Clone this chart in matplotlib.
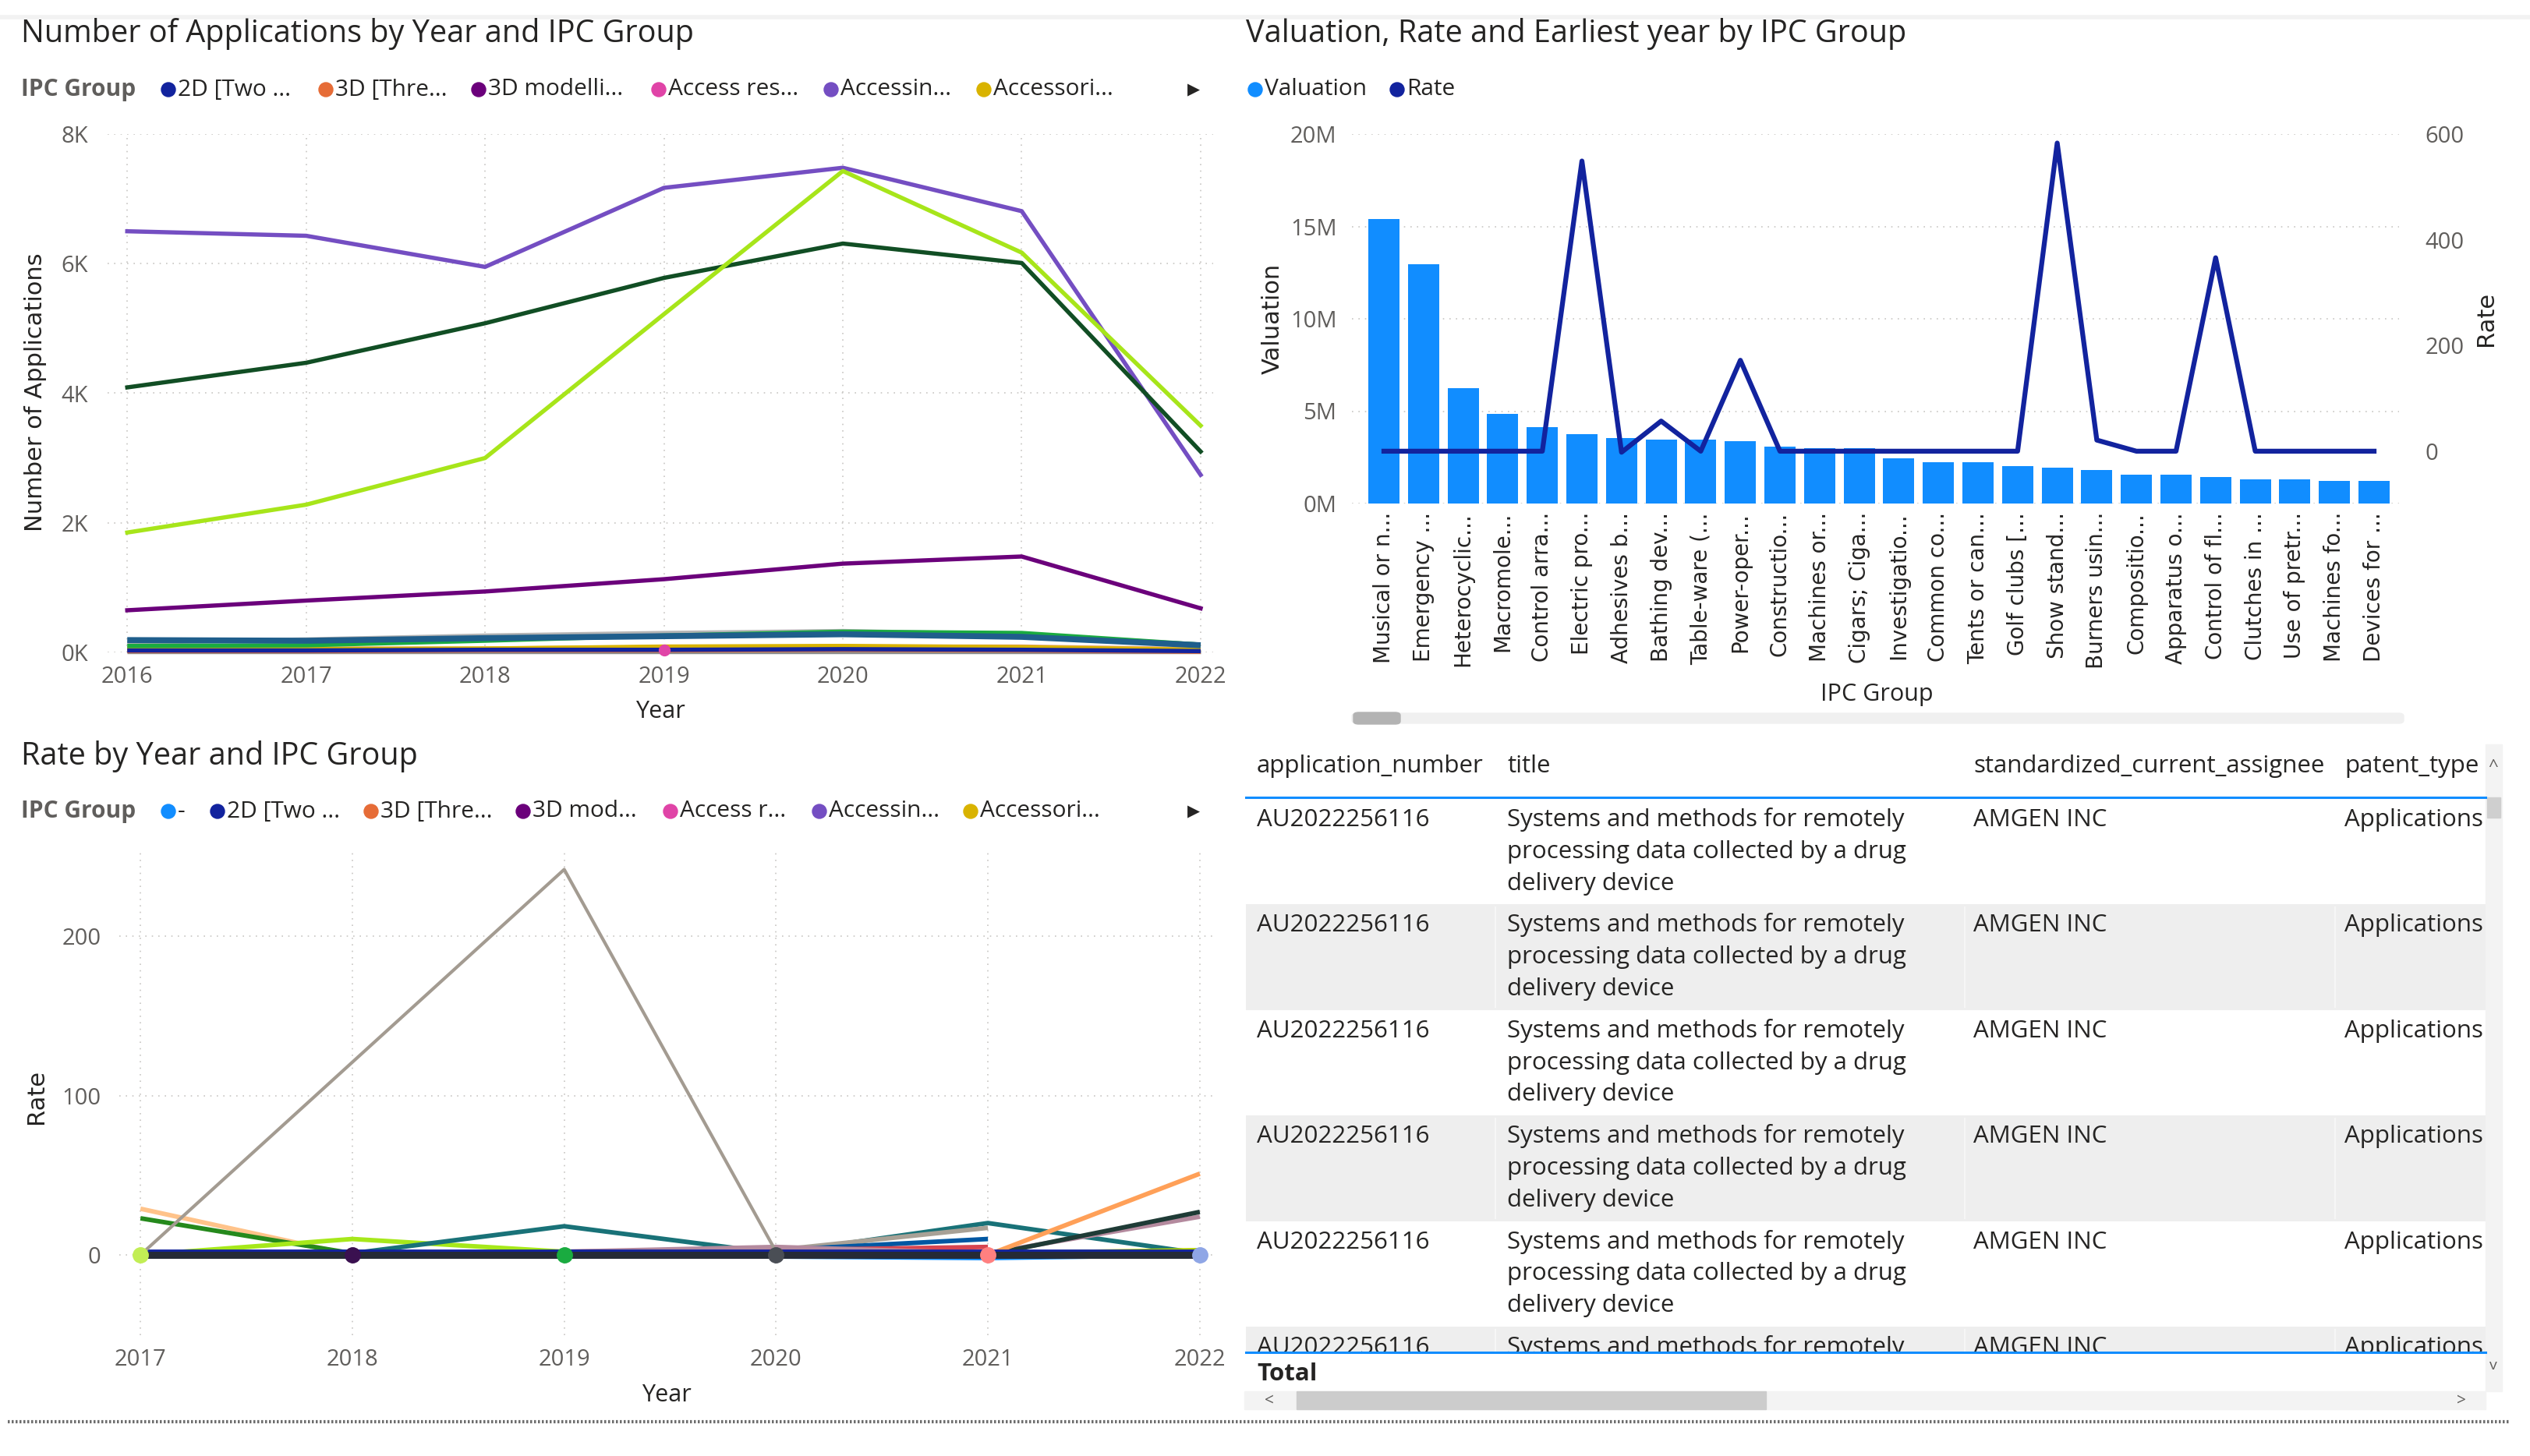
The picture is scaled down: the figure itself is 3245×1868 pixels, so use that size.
import numpy as np
import matplotlib
matplotlib.use("Agg")
import matplotlib.pyplot as plt
from matplotlib.patches import Rectangle, Ellipse, FancyBboxPatch

W, H = 3245, 1868
plt.rcParams['font.family'] = ['Open Sans', 'DejaVu Sans']

TXT = "#252423"
TICK = "#605E5C"
GRID = "#C8C6C4"

# ---------------- data: applications by year ----------------
years_apps = [2016, 2017, 2018, 2019, 2020, 2021, 2022]
apps_names = ["2D [Two ...", "3D [Thre...", "3D modelli...", "Access res...",
              "Accessin...", "Accessori..."]
apps_colors = ["#12239E", "#E66C37", "#6B007B", "#E044A7", "#744EC2", "#D9B300"]

apps_gray = [10, 10, 10, 10, 10, 10, 10]
apps_tan = [70, 60, 60, 80, 90, 90, 50]
apps_accessori = [60, 50, 60, 90, 100, 80, 40]
apps_3d_thre = [20, 20, 30, 30, 40, 30, 10]
apps_2d_two = [30, 30, 40, 40, 50, 40, 20]
apps_lightgray = [150, 200, 260, 300, 330, 280, 120]
apps_green = [100, 110, 180, 260, 320, 300, 120]
apps_steel = [190, 180, 220, 250, 280, 240, 110]
apps_access_res = [40]            # single point in 2019
apps_3d_modelli = [650, 800, 940, 1130, 1370, 1480, 680]
apps_accessin = [6500, 6430, 5950, 7170, 7480, 6810, 2740]
apps_darkgreen = [4090, 4470, 5080, 5780, 6310, 6010, 3100]
apps_lime = [1850, 2280, 3000, 5220, 7430, 6170, 3500]

# ---------------- data: valuation / rate by IPC group ----------------
ipc_groups = ["Musical or n...", "Emergency ...", "Heterocyclic...", "Macromole...",
              "Control arra...", "Electric pro...", "Adhesives b...", "Bathing dev...",
              "Table-ware (...", "Power-oper...", "Constructio...", "Machines or...",
              "Cigars; Ciga...", "Investigatio...", "Common co...", "Tents or can...",
              "Golf clubs [...", "Show stand...", "Burners usin...", "Compositio...",
              "Apparatus o...", "Control of fl...", "Clutches in ...", "Use of pretr...",
              "Machines fo...", "Devices for ..."]
valuation = [15.38, 12.97, 6.24, 4.86, 4.12, 3.76, 3.55, 3.45, 3.45, 3.38, 3.10, 3.01,
             3.01, 2.44, 2.23, 2.23, 2.02, 1.92, 1.82, 1.56, 1.56, 1.42, 1.32, 1.31,
             1.21, 1.21]  # millions
rate = [0, 0, 0, 0, 0, 549, -2, 57, 0, 172, 0, 0, 0, 0, 0, 0, 0, 583, 21, 0, 0, 366,
        0, 0, 0, 0]

# ---------------- data: rate by year ----------------
years_rate = [2017, 2018, 2019, 2020, 2021, 2022]
rate_names = ["-", "2D [Two ...", "3D [Thre...", "3D mod...", "Access r...",
              "Accessin...", "Accessori..."]
rate_colors = ["#118DFF", "#12239E", "#E66C37", "#6B007B", "#E044A7", "#744EC2", "#D9B300"]
nan = np.nan
rate_series = [
    # (values, color, linewidth)
    ([29, 0, nan, nan, nan, nan], "#FFC38A", 4.2),
    ([23, 1, nan, nan, nan, nan], "#25891C", 4.2),
    ([0, 10, 2, nan, nan, nan], "#A6E81A", 4.2),
    ([nan, 1, 18, 1, 20, 1], "#197278", 4.2),
    ([nan, nan, nan, 3, 17, nan], "#A8A196", 4.2),
    ([nan, nan, nan, 3, 10, nan], "#0057A2", 4.2),
    ([nan, nan, 2, 3, 5, nan], "#D64550", 4.2),
    ([nan, nan, 2, 5, 1, 24], "#B48A9E", 4.2),
    ([nan, nan, nan, nan, 0, 27], "#1F3B36", 4.2),
    ([nan, nan, nan, nan, 0, 51], "#FFA058", 4.2),
    ([nan, nan, nan, nan, 1, 3], "#B5D300", 4.2),
    ([nan, nan, nan, -1, -2, 0], "#118DFF", 4.2),
    ([2, 2, 2, 2, 2, 2], "#12239E", 4.2),
    ([0, 0, 0, 0, 0, 0], "#252A36", 6.5),
    ([0, 121, 242, 2, nan, nan], "#A39B91", 3),
]
rate_markers = ["#C2EE55", "#3A1050", "#1AAB40", "#4A4E55", "#FF8080", "#8FA6E6"]

# ---------------- table ----------------
tbl_columns = ["application_number", "title", "standardized_current_assignee", "patent_type"]
tbl_app = ["AU2022256116"] * 6
tbl_title = ["Systems and methods for remotely\nprocessing data collected by a drug\ndelivery device"] * 6
tbl_assignee = ["AMGEN INC"] * 6
tbl_type = ["Applications"] * 6

fig = plt.figure(figsize=(W / 100, H / 100), dpi=100)

FS_LEG = 21.5
FS_TBL = 22.5
FS_TITLE = 28.5
FS_AXL = 22


def add_ax(x0, y0, x1, y1):
    return fig.add_axes([x0 / W, 1 - y1 / H, (x1 - x0) / W, (y1 - y0) / H])


def ftext(x, y, s, **kw):
    return fig.text(x / W, 1 - y / H, s, **kw)


def dot(x, y, col):
    fig.patches.append(Ellipse((x / W, 1 - y / H), 18 / W, 18 / H, color=col,
                               transform=fig.transFigure, figure=fig))


def legend_row(y, x_title, items):
    ftext(x_title, y, "IPC Group", fontsize=FS_LEG, fontweight="bold", color="#605E5C",
          va="center", ha="left")
    for xd, label, col in items:
        dot(xd, y, col)
        ftext(xd + 12, y, label, fontsize=FS_LEG, color=TXT, va="center", ha="left")
    ftext(1531, y, "\u25B6", fontsize=15, color="#252423", va="center", ha="center",
          family="DejaVu Sans")


def style_axes(ax):
    for s in ax.spines.values():
        s.set_visible(False)
    ax.tick_params(length=0, colors=TICK, labelsize=21)


# top faint separator and bottom dotted line
fig.add_artist(plt.Line2D([0, 1], [1 - 22 / H, 1 - 22 / H], color="#F2F2F2", lw=4,
                          transform=fig.transFigure))
fig.add_artist(plt.Line2D([10 / W, 3218 / W], [1 - 1824 / H, 1 - 1824 / H], color="#6E6E6E",
                          lw=3, ls=(0, (0.6, 0.6)), transform=fig.transFigure))

# ================= chart 1: applications =================
ftext(27, 44, "Number of Applications by Year and IPC Group", fontsize=FS_TITLE, color=TXT,
      va="center", ha="left")
legend_row(115, 27, [(216, apps_names[0], apps_colors[0]), (418, apps_names[1], apps_colors[1]),
                     (614, apps_names[2], apps_colors[2]), (845, apps_names[3], apps_colors[3]),
                     (1066, apps_names[4], apps_colors[4]), (1262, apps_names[5], apps_colors[5])])

ax1 = add_ax(138, 172, 1556, 837)
style_axes(ax1)
ax1.set_xlim(2015.89, 2022.07)
ax1.set_ylim(0, 8000)
ax1.set_yticks([0, 2000, 4000, 6000, 8000])
ax1.set_yticklabels(["0K", "2K", "4K", "6K", "8K"])
ax1.set_xticks(years_apps)
ax1.grid(True, color=GRID, ls=(0, (1, 4)), lw=1.2)
ax1.tick_params(axis="y", pad=18)
ax1.tick_params(axis="x", pad=12)
lw1 = 3.9
for vals, col in [(apps_gray, "#8C8C8C"), (apps_tan, "#E6A46A"), (apps_accessori, apps_colors[5]),
                  (apps_3d_thre, apps_colors[1]), (apps_2d_two, apps_colors[0]),
                  (apps_lightgray, "#B4B4B4"), (apps_green, "#1AAB40"), (apps_steel, "#1F5E8C")]:
    ax1.plot(years_apps, vals, color=col, lw=lw1 if col != "#1F5E8C" else 5.5, clip_on=False,
             solid_capstyle="butt")
ax1.plot([2019], apps_access_res, "o", color=apps_colors[3], ms=10, clip_on=False)
ax1.plot(years_apps, apps_3d_modelli, color=apps_colors[2], lw=lw1)
ax1.plot(years_apps, apps_accessin, color=apps_colors[4], lw=lw1)
ax1.plot(years_apps, apps_darkgreen, color="#114E24", lw=lw1)
ax1.plot(years_apps, apps_lime, color="#A7E51A", lw=lw1)
ax1.set_xlabel("Year", fontsize=22, color=TXT, labelpad=11)
ftext(45, 503, "Number of Applications", fontsize=FS_AXL, color=TXT, rotation=90,
      va="center", ha="center", family="DejaVu Sans")

# ================= chart 2: valuation / rate =================
ftext(1598, 44, "Valuation, Rate and Earliest year by IPC Group", fontsize=FS_TITLE, color=TXT,
      va="center", ha="left")
dot(1610, 115, "#118DFF")
ftext(1622, 115, "Valuation", fontsize=FS_LEG, color=TXT, va="center", ha="left")
dot(1792, 115, "#12239E")
ftext(1804, 115, "Rate", fontsize=FS_LEG, color=TXT, va="center", ha="left")

ax2 = add_ax(1734, 172, 3077, 646)
style_axes(ax2)
xpos = np.arange(len(ipc_groups))
ax2.bar(xpos, np.array(valuation) * 1e6, width=0.79, color="#118DFF", zorder=2)
ax2.set_xlim(-0.807, 25.63)
ax2.set_ylim(0, 20e6)
ax2.set_yticks([0, 5e6, 10e6, 15e6, 20e6])
ax2.set_yticklabels(["0M", "5M", "10M", "15M", "20M"])
ax2.yaxis.grid(True, color=GRID, ls=(0, (1, 4)), lw=1.2, zorder=0)
ax2.set_axisbelow(True)
ax2.tick_params(axis="y", pad=14)
ax2.set_xticks(xpos)
ax2.set_xticklabels(ipc_groups, rotation=90, fontsize=20, color=TXT, family="DejaVu Sans")
ax2.tick_params(axis="x", pad=8)
ax2.set_ylabel("Valuation", fontsize=FS_AXL, color=TXT, family="DejaVu Sans", labelpad=6)
ftext(2407, 891, "IPC Group", fontsize=22, color=TXT, ha="center", va="center")

ax2r = ax2.twinx()
style_axes(ax2r)
ax2r.plot(xpos, rate, color="#12239E", lw=4.5, zorder=3)
ax2r.set_ylim(-99, 600)
ax2r.set_yticks([0, 200, 400, 600])
ax2r.tick_params(axis="y", pad=24)
ax2r.set_ylabel("Rate", fontsize=FS_AXL, color=TXT, family="DejaVu Sans", labelpad=10)

# horizontal scrollbar of the bar chart
fig.patches.append(FancyBboxPatch((1734 / W, 1 - 928 / H), (3083 - 1734) / W, 13 / H,
                                  boxstyle="round,pad=0,rounding_size=0.002",
                                  color="#F0F0F0", transform=fig.transFigure, figure=fig))
fig.patches.append(FancyBboxPatch((1736 / W, 1 - 929 / H), 60 / W, 15 / H,
                                  boxstyle="round,pad=0,rounding_size=0.002",
                                  color="#B3B3B3", transform=fig.transFigure, figure=fig))

# ================= chart 3: rate by year =================
ftext(27, 970, "Rate by Year and IPC Group", fontsize=FS_TITLE, color=TXT, va="center", ha="left")
legend_row(1041, 27, [(216, rate_names[0], rate_colors[0]), (279, rate_names[1], rate_colors[1]),
                      (476, rate_names[2], rate_colors[2]), (671, rate_names[3], rate_colors[3]),
                      (860, rate_names[4], rate_colors[4]), (1051, rate_names[5], rate_colors[5]),
                      (1245, rate_names[6], rate_colors[6])])

ax3 = add_ax(153, 1093, 1556, 1713)
style_axes(ax3)
ax3.set_xlim(2016.90, 2022.063)
ax3.set_ylim(-50.4, 253)
ax3.set_yticks([0, 100, 200])
ax3.set_xticks(years_rate)
ax3.grid(True, color=GRID, ls=(0, (1, 4)), lw=1.2)
ax3.tick_params(axis="y", pad=17)
ax3.tick_params(axis="x", pad=12)
for vals, col, lw in rate_series:
    ax3.plot(years_rate, vals, color=col, lw=lw, solid_capstyle="butt")
for yr, col in zip(years_rate, rate_markers):
    ax3.plot([yr], [0], "o", color=col, ms=14, zorder=5, clip_on=False)
ax3.set_xlabel("Year", fontsize=22, color=TXT, labelpad=12)
ftext(46, 1407, "Rate", fontsize=FS_AXL, color=TXT, rotation=90, va="center", ha="center",
      family="DejaVu Sans")

# ================= table =================
col_x = [1612, 1933, 2531, 3007]
for cx, name in zip(col_x, tbl_columns):
    ftext(cx, 983, name, fontsize=FS_TBL, color=TXT, va="center", ha="left")
ftext(3197, 985, "^", fontsize=16, color="#605E5C", va="center", ha="center")

axt = add_ax(1598, 1023, 3188, 1735)
axt.set_xlim(1598, 3188)
axt.set_ylim(1735, 1023)
axt.axis("off")
row_h = 135.4
for i in range(len(tbl_app)):
    top = 1025 + i * row_h
    if i % 2 == 1:
        axt.add_patch(Rectangle((1598, top), 1590, row_h, color="#EEEEEE", lw=0))
        for sx in [1918, 2520, 2995]:
            axt.plot([sx, sx], [top + 4, top + row_h - 4], color="#F6F6F6", lw=1.5)
    y0 = top + 27
    axt.text(col_x[0], y0, tbl_app[i], fontsize=FS_TBL, color=TXT, va="center", ha="left",
             clip_on=True)
    axt.text(col_x[1], y0 - 16, tbl_title[i], fontsize=FS_TBL, color=TXT, va="top", ha="left",
             linespacing=1.47, clip_on=True)
    axt.text(col_x[2], y0, tbl_assignee[i], fontsize=FS_TBL, color=TXT, va="center", ha="left",
             clip_on=True)
    axt.text(col_x[3], y0, tbl_type[i], fontsize=FS_TBL, color=TXT, va="center", ha="left",
             clip_on=True)

fig.add_artist(plt.Line2D([1598 / W, 3188 / W], [1 - 1023 / H, 1 - 1023 / H], color="#118DFF",
                          lw=2.2, transform=fig.transFigure))
fig.add_artist(plt.Line2D([1598 / W, 3188 / W], [1 - 1735 / H, 1 - 1735 / H], color="#118DFF",
                          lw=2.2, transform=fig.transFigure))
ftext(1612, 1763, "Total", fontsize=FS_TBL, fontweight="bold", color=TXT, va="center", ha="left")

# vertical scrollbar
fig.patches.append(Rectangle((3188 / W, 1 - 1785 / H), 21 / W, (1785 - 955) / H, color="#F3F3F3",
                             transform=fig.transFigure, figure=fig))
fig.patches.append(Rectangle((3190 / W, 1 - 1049 / H), 17 / W, 26 / H, color="#CFCFCF",
                             transform=fig.transFigure, figure=fig))
ftext(3198, 1752, "v", fontsize=14, color="#605E5C", va="center", ha="center")
# horizontal scrollbar
fig.patches.append(Rectangle((1596 / W, 1 - 1808 / H), (3188 - 1596) / W, 23 / H, color="#F3F3F3",
                             transform=fig.transFigure, figure=fig))
fig.patches.append(Rectangle((1663 / W, 1 - 1808 / H), (2265 - 1663) / W, 23 / H, color="#CCCCCC",
                             transform=fig.transFigure, figure=fig))
ftext(1628, 1797, "<", fontsize=15, color="#605E5C", va="center", ha="center")
ftext(3157, 1797, ">", fontsize=15, color="#605E5C", va="center", ha="center")

fig.savefig("out.png", dpi=100, facecolor="white")
